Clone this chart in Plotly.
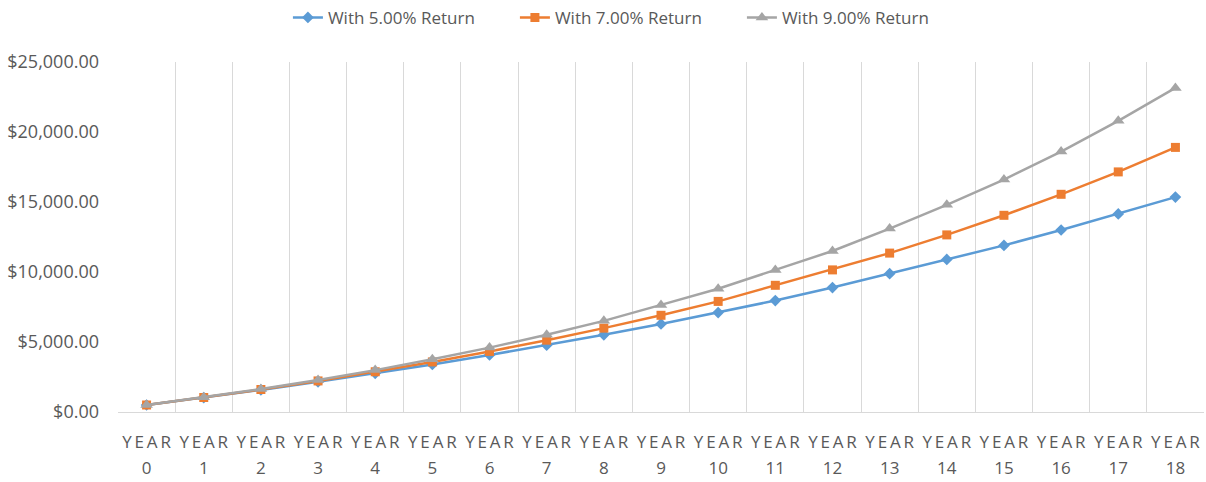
import plotly.graph_objects as go

sp = "\u2009"
year_nums = list(range(19))
categories = [f"YEAR {i}" for i in year_nums]
year_word = f"Y{sp}E{sp}A{sp}R"
ret5 = [500, 1025, 1576, 2155, 2763, 3401, 4071, 4775, 5514, 6289, 7103, 7959, 8890, 9880, 10900, 11900, 13000, 14150, 15350]
ret7 = [500, 1035, 1607, 2220, 2875, 3577, 4327, 5130, 5989, 6908, 7900, 9050, 10150, 11350, 12650, 14050, 15550, 17150, 18900]
ret9 = [500, 1045, 1639, 2286, 2992, 3761, 4600, 5514, 6510, 7650, 8800, 10150, 11500, 13100, 14800, 16600, 18600, 20800, 23150]
names = ["With 5.00% Return", "With 7.00% Return", "With 9.00% Return"]
colors = ["#5B9BD5", "#ED7D31", "#A5A5A5"]
symbols = ["diamond", "square", "triangle-up"]
sizes = [9, 9, 11]

fig = go.Figure()
for vals, name, c, s, sz in zip([ret5, ret7, ret9], names, colors, symbols, sizes):
    fig.add_trace(go.Scatter(x=categories, y=vals, name=name, mode="lines+markers",
                             line=dict(color=c, width=2.5),
                             marker=dict(symbol=s, size=sz, color=c)))
# carrier trace for the second (year number) label row
fig.add_trace(go.Scatter(x=categories, y=ret5, xaxis="x2", mode="none",
                         showlegend=False, hoverinfo="skip"))

font = "Open Sans, Arial, sans-serif"
tick_font = dict(size=17, color="#595959")
fig.update_layout(
    width=1206, height=482,
    margin=dict(l=118, r=2, t=62, b=70),
    plot_bgcolor="white", paper_bgcolor="white",
    font=dict(family=font, size=17, color="#595959"),
    legend=dict(orientation="h", x=0.47, xanchor="center", y=0.963, yanchor="middle",
                yref="container", entrywidth=182, font=dict(size=17, color="#595959")),
    showlegend=True,
    xaxis=dict(type="category", categoryorder="array", categoryarray=categories,
               tickvals=categories, ticktext=[year_word] * len(categories), tickangle=0,
               tickson="boundaries", showgrid=True, gridcolor="#D9D9D9",
               gridwidth=1, showline=True, linecolor="#D9D9D9", ticks="", automargin=False,
               ticklabelstandoff=15, tickfont=tick_font, range=[-0.5, 18.5]),
    xaxis2=dict(type="category", categoryorder="array", categoryarray=categories,
                overlaying="x", anchor="y", side="bottom", tickangle=0,
                tickvals=categories, ticktext=[str(i) for i in year_nums],
                showgrid=False, showline=False, zeroline=False, ticks="", automargin=False,
                ticklabelstandoff=44, tickfont=tick_font, range=[-0.5, 18.5]),
    yaxis=dict(range=[0, 25000], dtick=5000, showgrid=False, zeroline=False, automargin=False,
               tickprefix="$", tickformat=",.2f", ticks="", ticklabelstandoff=18,
               tickfont=dict(size=18, color="#595959")),
)
fig.write_html("out.html", config={"displayModeBar": False},
               post_script="document.body.style.margin='0';document.body.style.overflow='hidden';")
